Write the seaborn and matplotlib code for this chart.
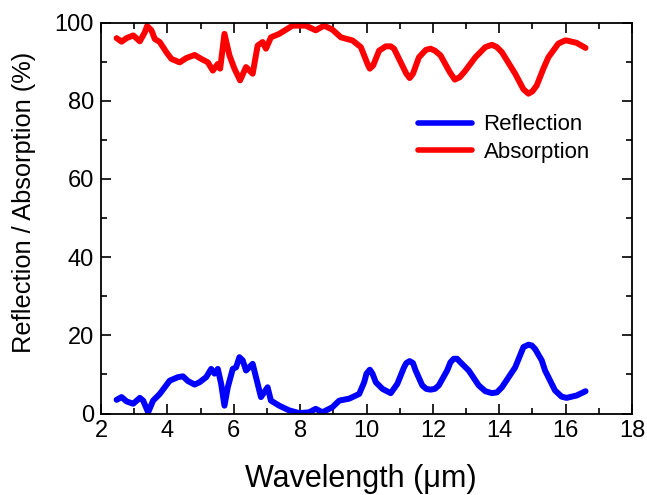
import matplotlib
matplotlib.use("Agg")
import matplotlib.pyplot as plt
import seaborn as sns
from matplotlib.ticker import MultipleLocator

# Reflection (%) vs wavelength (um)
refl_x = [2.47, 2.62, 2.77, 2.97, 3.17, 3.27, 3.42, 3.57, 3.77, 4.07, 4.32, 4.47,
          4.62, 4.82, 4.97, 5.17, 5.32, 5.42, 5.52, 5.62, 5.72, 5.82, 5.97, 6.07,
          6.17, 6.27, 6.37, 6.57, 6.67, 6.82, 7.02, 7.12, 7.37, 7.67, 7.97, 8.27,
          8.47, 8.67, 8.97, 9.18, 9.48, 9.78, 9.93, 10.00, 10.10, 10.18, 10.28,
          10.48, 10.73, 10.93, 11.13, 11.20, 11.30, 11.40, 11.48, 11.68, 11.80,
          11.93, 12.06, 12.18, 12.43, 12.53, 12.63, 12.73, 12.83, 13.08, 13.38,
          13.58, 13.78, 13.93, 14.08, 14.48, 14.73, 14.88, 14.98, 15.08, 15.28,
          15.38, 15.68, 15.88, 16.03, 16.33, 16.60]
refl_y = [3.5, 4.2, 3.1, 2.5, 4.0, 3.3, 0.3, 3.3, 5.0, 8.4, 9.3, 9.5,
          8.3, 7.4, 8.0, 9.3, 11.4, 10.2, 11.4, 7.6, 2.0, 6.7, 11.4, 11.8,
          14.4, 13.6, 11.0, 12.7, 9.3, 4.2, 6.7, 3.3, 2.0, 0.8, 0.1, 0.3,
          1.2, 0.3, 1.6, 3.3, 3.8, 5.0, 8.0, 10.2, 11.2, 10.2, 8.0,
          6.3, 5.2, 7.6, 11.8, 12.9, 13.4, 12.9, 11.0, 7.2, 6.3,
          6.1, 6.3, 7.2, 11.0, 13.1, 14.0, 14.0, 13.1, 11.0, 7.2,
          5.7, 5.2, 5.4, 6.7, 11.8, 17.0, 17.6, 17.4, 16.5, 13.6,
          11.0, 5.9, 4.3, 4.0, 4.6, 5.7]

# Absorption (%) vs wavelength (um)
abs_x = [2.47, 2.62, 2.77, 2.97, 3.17, 3.32, 3.39, 3.52, 3.62, 3.77, 3.97, 4.12,
         4.37, 4.57, 4.82, 5.02, 5.22, 5.37, 5.52, 5.59, 5.72, 5.87, 6.02, 6.19,
         6.37, 6.57, 6.72, 6.87, 6.97, 7.12, 7.37, 7.62, 7.77, 8.17, 8.47, 8.72,
         8.97, 9.23, 9.58, 9.83, 10.05, 10.10, 10.20, 10.38, 10.58, 10.73, 10.83,
         10.98, 11.20, 11.30, 11.40, 11.58, 11.79, 11.93, 12.06, 12.23, 12.51,
         12.66, 12.81, 12.98, 13.28, 13.58, 13.78, 13.93, 14.08, 14.48, 14.73,
         14.88, 15.00, 15.13, 15.33, 15.48, 15.78, 15.98, 16.03, 16.33, 16.60]
abs_y = [96.0, 95.1, 96.0, 96.7, 95.2, 97.5, 99.1, 98.0, 95.8, 95.0, 92.4, 90.7,
         89.8, 90.9, 91.7, 90.7, 89.8, 87.7, 89.4, 88.2, 97.1, 91.6, 88.2, 85.2,
         88.6, 86.9, 94.1, 95.0, 93.3, 96.2, 97.1, 98.4, 99.2, 99.2, 98.0, 99.2,
         98.2, 96.2, 95.4, 93.7, 89.0, 88.2, 89.0, 92.8, 93.9, 93.9, 93.3,
         90.7, 86.9, 85.8, 86.9, 91.1, 93.0, 93.3, 92.8, 91.6, 87.3,
         85.4, 86.0, 87.7, 91.1, 93.7, 94.3, 93.7, 92.4, 86.9, 82.9,
         81.8, 82.4, 83.9, 88.2, 91.1, 94.6, 95.4, 95.4, 94.8, 93.5]

x_ticks = [2, 4, 6, 8, 10, 12, 14, 16, 18]
y_ticks = [0, 20, 40, 60, 80, 100]

sns.set_style("ticks")
plt.rcParams['font.family'] = ['Liberation Sans', 'DejaVu Sans']
plt.rcParams['text.color'] = 'black'
plt.rcParams['axes.labelcolor'] = 'black'
plt.rcParams['xtick.color'] = 'black'
plt.rcParams['ytick.color'] = 'black'

fig = plt.figure(figsize=(6.47, 4.95), dpi=100)
ax = fig.add_axes([101/647, 1 - 413.5/495, 531/647, (413.5 - 22.5)/495])

sns.lineplot(x=refl_x, y=refl_y, ax=ax, color="#0000FF", lw=4.3,
             label="Reflection", estimator=None, sort=False)
sns.lineplot(x=abs_x, y=abs_y, ax=ax, color="#FF0000", lw=4.3,
             label="Absorption", estimator=None, sort=False)
for l in ax.lines:
    l.set_solid_joinstyle("round")
    l.set_solid_capstyle("round")

ax.set_xlim(2, 18)
ax.set_ylim(0, 100)
ax.set_xticks(x_ticks)
ax.set_yticks(y_ticks)
ax.xaxis.set_minor_locator(MultipleLocator(1))
ax.yaxis.set_minor_locator(MultipleLocator(10))
ax.tick_params(which="both", direction="in", top=True, right=True, width=1.2,
               labelsize=17, color="black", labelcolor="black", pad=5)
ax.tick_params(which="major", length=7)
ax.tick_params(which="minor", length=4)
for s in ax.spines.values():
    s.set_linewidth(1.3)
    s.set_color("black")

ax.set_xlabel("Wavelength (\u03bcm)", fontsize=22, color="black")
ax.set_ylabel("Reflection / Absorption (%)", fontsize=18.3, color="black")
ax.xaxis.set_label_coords(0.49, -0.128)
ax.yaxis.set_label_coords(-0.122, 0.541)

leg = ax.legend(loc="upper left", bbox_to_anchor=(0.597, 0.765), frameon=False,
                fontsize=16, handlelength=2.45, handletextpad=0.5,
                labelspacing=0.3, borderpad=0, borderaxespad=0)
for t in leg.get_texts():
    t.set_color("black")
for h in leg.get_lines():
    h.set_linewidth(4.0)
    h.set_solid_capstyle("round")

fig.savefig("out.png", dpi=100)
